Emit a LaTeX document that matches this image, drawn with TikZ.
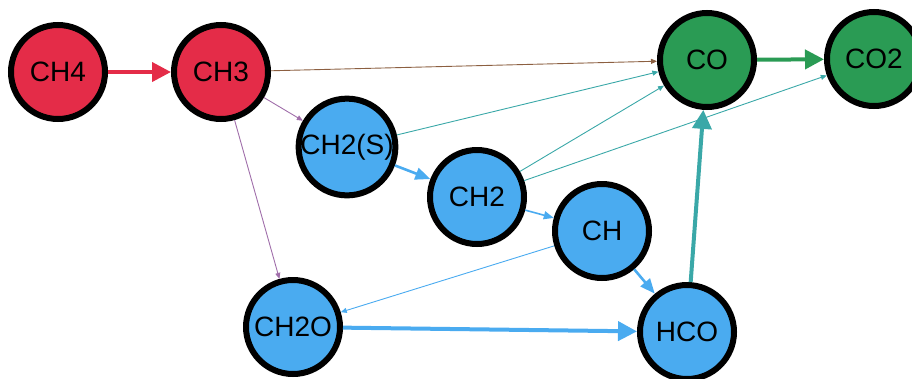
\documentclass[tikz,border=0pt]{standalone}
\usepackage{fontspec}
\setmainfont{Liberation Sans}
\usetikzlibrary{arrows.meta}

\definecolor{specred}{RGB}{228,44,72}
\definecolor{specgreen}{RGB}{42,155,84}
\definecolor{specblue}{RGB}{74,171,240}
\definecolor{specteal}{RGB}{58,168,168}
\definecolor{specbrown}{RGB}{140,95,65}
\definecolor{specpurple}{RGB}{160,110,170}

\begin{document}
\begin{tikzpicture}[x=1pt, y=-1pt,
    species/.style={circle, draw=black, line width=6pt, minimum size=94pt, inner sep=0pt,
      font=\fontsize{28}{30}\selectfont},
    flowthin/.style={line width=0.9pt, -{Triangle[length=6pt, width=5pt]}},
    flowmid/.style={line width=1.6pt, -{Triangle[length=10pt, width=8pt]}},
    flowbig/.style={line width=2.6pt, -{Triangle[length=15pt, width=12pt]}},
    flowmain/.style={line width=4pt, -{Triangle[length=19pt, width=19pt]}}]
%%% species %%%
\useasboundingbox (0,0) rectangle (912,378);

      \node[species, fill=specred] (ch4) at (58,72) {CH4};
      \node[species, fill=specred] (ch3) at (221,72) {CH3};
      \node[species, fill=specgreen] (co) at (707,60) {CO};
      \node[species, fill=specgreen] (co2) at (874,59) {CO2};
      %%
      \node[species, fill=specblue] (ch2s) at (347,147) {CH2(S)};
      \node[species, fill=specblue] (ch2) at (477,197) {CH2};
      \node[species, fill=specblue] (ch) at (602,231) {CH};
      \node[species, fill=specblue] (ch2o) at (293,327) {CH2O};
      \node[species, fill=specblue] (hco) at (687,332) {HCO};

%%% fluxes %%%
      \draw[flowmain, specred] (ch4) -- (ch3);
      \draw[flowthin, specbrown] (ch3) -- (co);
      \draw[flowthin, specpurple] (ch3) -- (ch2s);
      \draw[flowthin, specpurple] (ch3) -- (ch2o);
      %%
      \draw[flowthin, specteal] (ch2s) -- (co);
      \draw[flowbig, specblue] (ch2s) -- (ch2);
      \draw[flowthin, specteal] (ch2) -- (co);
      \draw[flowthin, specteal] (ch2) -- (co2);
      \draw[flowmid, specblue] (ch2) -- (ch);
      \draw[flowthin, specblue] (ch) -- (ch2o);
      \draw[flowbig, specblue] (ch) -- (hco);
      \draw[flowmain, specblue] (ch2o) -- (hco);
      \draw[flowmain, specteal] (hco) -- (co);
      \draw[flowmain, specgreen] (co) -- (co2);

\end{tikzpicture}
\end{document}
